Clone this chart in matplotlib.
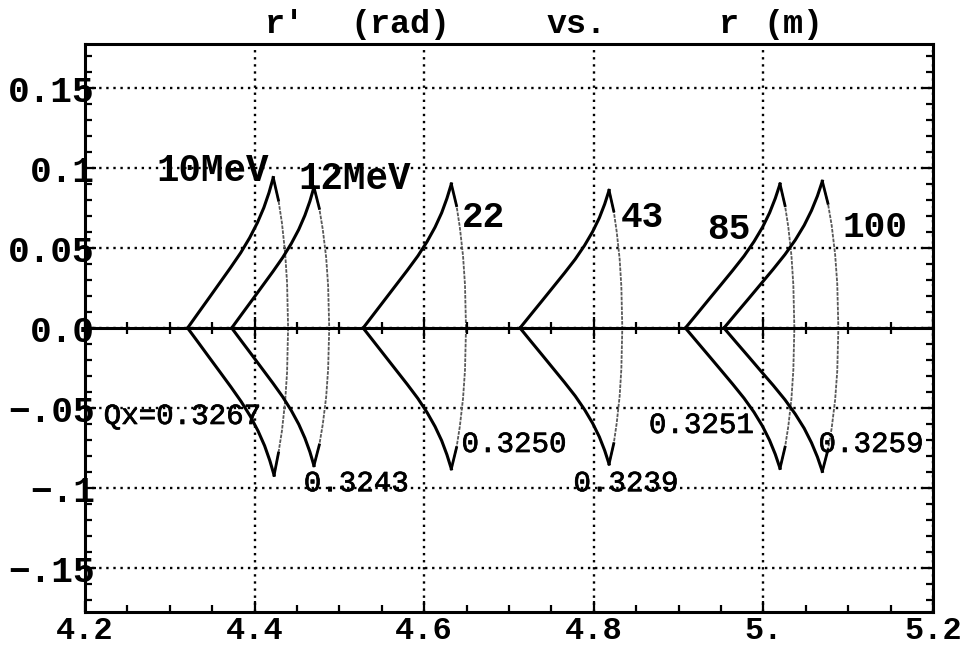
import matplotlib
matplotlib.use("Agg")
import matplotlib.pyplot as plt
import matplotlib.patheffects as pe
from matplotlib.ticker import MultipleLocator

MONO = ["Liberation Mono", "DejaVu Sans Mono"]

# ---------------- data ----------------
# Left branch of each separatrix: vertex -> top tip (upper), vertex -> bottom tip (lower)
# Right arc: top tip -> r'=0 -> bottom tip
e10_up_r   = [4.3210, 4.3336, 4.3463, 4.3589, 4.3715, 4.3836, 4.3942, 4.4033, 4.4109, 4.4170, 4.4220]
e10_up_rp  = [0.0, 0.0094, 0.0188, 0.0282, 0.0376, 0.0470, 0.0564, 0.0658, 0.0752, 0.0846, 0.0940]
e10_lo_r   = [4.3210, 4.3338, 4.3465, 4.3593, 4.3720, 4.3842, 4.3950, 4.4041, 4.4118, 4.4179, 4.4230]
e10_lo_rp  = [0.0, -0.0092, -0.0184, -0.0276, -0.0368, -0.0460, -0.0552, -0.0644, -0.0736, -0.0828, -0.0920]
e10_arc_r  = [4.4220, 4.4281, 4.4322, 4.4360, 4.4383, 4.4395, 4.4383, 4.4360, 4.4322, 4.4281, 4.4230]
e10_arc_rp = [0.0940, 0.0799, 0.0658, 0.0470, 0.0282, 0.0, -0.0276, -0.0460, -0.0644, -0.0782, -0.0920]

e12_up_r   = [4.3730, 4.3851, 4.3973, 4.4094, 4.4215, 4.4331, 4.4433, 4.4521, 4.4593, 4.4652, 4.4700]
e12_up_rp  = [0.0, 0.0088, 0.0176, 0.0264, 0.0352, 0.0440, 0.0528, 0.0616, 0.0704, 0.0792, 0.0880]
e12_lo_r   = [4.3730, 4.3851, 4.3973, 4.4094, 4.4215, 4.4331, 4.4433, 4.4521, 4.4593, 4.4652, 4.4700]
e12_lo_rp  = [0.0, -0.0086, -0.0172, -0.0258, -0.0344, -0.0430, -0.0516, -0.0602, -0.0688, -0.0774, -0.0860]
e12_arc_r  = [4.4700, 4.4763, 4.4804, 4.4844, 4.4867, 4.4880, 4.4867, 4.4844, 4.4804, 4.4763, 4.4700]
e12_arc_rp = [0.0880, 0.0748, 0.0616, 0.0440, 0.0264, 0.0, -0.0258, -0.0430, -0.0602, -0.0731, -0.0860]

e22_up_r   = [4.5280, 4.5410, 4.5540, 4.5670, 4.5800, 4.5925, 4.6034, 4.6128, 4.6206, 4.6268, 4.6320]
e22_up_rp  = [0.0, 0.0090, 0.0180, 0.0270, 0.0360, 0.0450, 0.0540, 0.0630, 0.0720, 0.0810, 0.0900]
e22_lo_r   = [4.5280, 4.5410, 4.5540, 4.5670, 4.5800, 4.5925, 4.6034, 4.6128, 4.6206, 4.6268, 4.6320]
e22_lo_rp  = [0.0, -0.0088, -0.0176, -0.0264, -0.0352, -0.0440, -0.0528, -0.0616, -0.0704, -0.0792, -0.0880]
e22_arc_r  = [4.6320, 4.6381, 4.6420, 4.6458, 4.6481, 4.6493, 4.6481, 4.6458, 4.6420, 4.6381, 4.6320]
e22_arc_rp = [0.0900, 0.0765, 0.0630, 0.0450, 0.0270, 0.0, -0.0264, -0.0440, -0.0616, -0.0748, -0.0880]

e43_up_r   = [4.7130, 4.7261, 4.7393, 4.7524, 4.7655, 4.7781, 4.7891, 4.7986, 4.8065, 4.8128, 4.8180]
e43_up_rp  = [0.0, 0.0086, 0.0172, 0.0258, 0.0344, 0.0430, 0.0516, 0.0602, 0.0688, 0.0774, 0.0860]
e43_lo_r   = [4.7130, 4.7261, 4.7393, 4.7524, 4.7655, 4.7781, 4.7891, 4.7986, 4.8065, 4.8128, 4.8180]
e43_lo_rp  = [0.0, -0.0085, -0.0170, -0.0255, -0.0340, -0.0425, -0.0510, -0.0595, -0.0680, -0.0765, -0.0850]
e43_arc_r  = [4.8180, 4.8235, 4.8270, 4.8305, 4.8325, 4.8336, 4.8325, 4.8305, 4.8270, 4.8235, 4.8180]
e43_arc_rp = [0.0860, 0.0731, 0.0602, 0.0430, 0.0258, 0.0, -0.0255, -0.0425, -0.0595, -0.0723, -0.0850]

e85_up_r   = [4.9080, 4.9220, 4.9359, 4.9499, 4.9638, 4.9772, 4.9889, 4.9990, 5.0073, 5.0140, 5.0196]
e85_up_rp  = [0.0, 0.0090, 0.0180, 0.0270, 0.0360, 0.0450, 0.0540, 0.0630, 0.0720, 0.0810, 0.0900]
e85_lo_r   = [4.9080, 4.9220, 4.9359, 4.9499, 4.9638, 4.9772, 4.9889, 4.9990, 5.0073, 5.0140, 5.0196]
e85_lo_rp  = [0.0, -0.0088, -0.0175, -0.0263, -0.0351, -0.0439, -0.0526, -0.0614, -0.0702, -0.0789, -0.0877]
e85_arc_r  = [5.0196, 5.0255, 5.0294, 5.0331, 5.0353, 5.0365, 5.0353, 5.0331, 5.0294, 5.0255, 5.0196]
e85_arc_rp = [0.0900, 0.0765, 0.0630, 0.0450, 0.0270, 0.0, -0.0263, -0.0439, -0.0614, -0.0745, -0.0877]

e100_up_r   = [4.9535, 4.9680, 4.9825, 4.9970, 5.0115, 5.0254, 5.0376, 5.0481, 5.0567, 5.0637, 5.0695]
e100_up_rp  = [0.0, 0.0092, 0.0183, 0.0275, 0.0367, 0.0459, 0.0550, 0.0642, 0.0734, 0.0825, 0.0917]
e100_lo_r   = [4.9535, 4.9680, 4.9825, 4.9970, 5.0115, 5.0254, 5.0376, 5.0481, 5.0567, 5.0637, 5.0695]
e100_lo_rp  = [0.0, -0.0090, -0.0179, -0.0269, -0.0358, -0.0448, -0.0538, -0.0627, -0.0717, -0.0806, -0.0896]
e100_arc_r  = [5.0695, 5.0761, 5.0805, 5.0846, 5.0871, 5.0884, 5.0871, 5.0846, 5.0805, 5.0761, 5.0695]
e100_arc_rp = [0.0917, 0.0779, 0.0642, 0.0459, 0.0275, 0.0, -0.0269, -0.0448, -0.0627, -0.0762, -0.0896]

# energy labels (text, r, r')
energy_labels = ["10MeV", "12MeV", "22", "43", "85", "100"]
energy_r      = [4.284, 4.452, 4.644, 4.832, 4.934, 5.093]
energy_rp     = [0.092, 0.087, 0.063, 0.063, 0.0556, 0.057]

# tune labels
tune_labels = ["Qx=0.3267", "0.3243", "0.3250", "0.3239", "0.3251", "0.3259"]
tune_r      = [4.222, 4.458, 4.644, 4.776, 4.865, 5.065]
tune_rp     = [-0.060, -0.102, -0.0775, -0.102, -0.0656, -0.0775]

x_ticks = [4.2, 4.4, 4.6, 4.8, 5.0, 5.2]
x_tick_labels = ["4.2", "4.4", "4.6", "4.8", "5.", "5.2"]
y_ticks = [-0.15, -0.10, -0.05, 0.0, 0.05, 0.10, 0.15]
y_tick_labels = ["\u2212.15", "\u2212.1", "\u2212.05", "0.0", "0.05", "0.1", "0.15"]

# ---------------- figure ----------------
W, H = 980, 648
fig = plt.figure(figsize=(W / 100, H / 100), dpi=100)
L, R, T, B = 85, 933, 44, 612
ax = fig.add_axes([L / W, 1 - B / H, (R - L) / W, (B - T) / H])
ax.set_xlim(4.2, 5.2)
ax.set_ylim(-0.1775, 0.1775)

for s in ax.spines.values():
    s.set_linewidth(2.2)

ax.grid(True, which="major", color="k", linestyle=(0, (1, 2.0)), linewidth=1.7)
ax.set_axisbelow(True)

ax.set_xticks(x_ticks)
ax.set_xticklabels(x_tick_labels, family=MONO, fontweight="bold", fontsize=23)
ax.set_yticks(y_ticks)
ax.set_yticklabels(y_tick_labels, family=MONO, fontweight="bold", fontsize=26)
ax.xaxis.set_minor_locator(MultipleLocator(0.05))
ax.yaxis.set_minor_locator(MultipleLocator(0.01))
ax.tick_params(which="both", direction="in", top=True, right=True, width=1.6, color="k")
ax.tick_params(which="major", length=8)
ax.tick_params(which="minor", length=5)
ax.tick_params(axis="x", pad=3)
ax.tick_params(axis="y", pad=-7.0)

# zero axis with crossing ticks
ax2 = ax.twiny()
ax2.set_xlim(4.2, 5.2)
for k in ["top", "left", "right"]:
    ax2.spines[k].set_visible(False)
ax2.spines["bottom"].set_position(("data", 0))
ax2.spines["bottom"].set_linewidth(2.2)
ax2.xaxis.set_ticks_position("bottom")
ax2.set_xticks(x_ticks)
ax2.xaxis.set_minor_locator(MultipleLocator(0.05))
ax2.tick_params(axis="x", which="both", direction="inout", labelbottom=False, labeltop=False,
                width=1.6, color="k")
ax2.tick_params(axis="x", which="major", length=16)
ax2.tick_params(axis="x", which="minor", length=8)

shapes = [
    (e10_up_r, e10_up_rp, e10_lo_r, e10_lo_rp, e10_arc_r, e10_arc_rp),
    (e12_up_r, e12_up_rp, e12_lo_r, e12_lo_rp, e12_arc_r, e12_arc_rp),
    (e22_up_r, e22_up_rp, e22_lo_r, e22_lo_rp, e22_arc_r, e22_arc_rp),
    (e43_up_r, e43_up_rp, e43_lo_r, e43_lo_rp, e43_arc_r, e43_arc_rp),
    (e85_up_r, e85_up_rp, e85_lo_r, e85_lo_rp, e85_arc_r, e85_arc_rp),
    (e100_up_r, e100_up_rp, e100_lo_r, e100_lo_rp, e100_arc_r, e100_arc_rp),
]
for ur, urp, lr, lrp, ar, arp in shapes:
    ax.plot(ar, arp, color="0.35", lw=1.3, linestyle=(0, (2, 0.7)), zorder=3)
    ax.plot(ar[:2], arp[:2], color="k", lw=2.0, zorder=3)
    ax.plot(ar[-2:], arp[-2:], color="k", lw=2.0, zorder=3)
    ax.plot(ur, urp, color="k", lw=2.2, zorder=4)
    ax.plot(lr, lrp, color="k", lw=2.2, zorder=4)

for i, (t, x, y) in enumerate(zip(energy_labels, energy_r, energy_rp)):
    ax.text(x, y, t, family=MONO, fontweight="bold", fontsize=27 if i < 2 else 26,
            ha="left", va="baseline", zorder=5)

for t, x, y in zip(tune_labels, tune_r, tune_rp):
    ax.text(x, y, t, family=MONO, fontsize=21, ha="left", va="baseline", zorder=5,
            path_effects=[pe.withStroke(linewidth=0.5, foreground="k")])

# title pieces
title_parts = [("r\u2032", 265), ("(rad)", 350), ("vs.", 546), ("r", 719), ("(m)", 763)]
for t, px in title_parts:
    fig.text(px / W, 1 - 33 / H, t, family=MONO, fontweight="bold", fontsize=24,
             ha="left", va="baseline")

fig.savefig("out.png", dpi=100)
